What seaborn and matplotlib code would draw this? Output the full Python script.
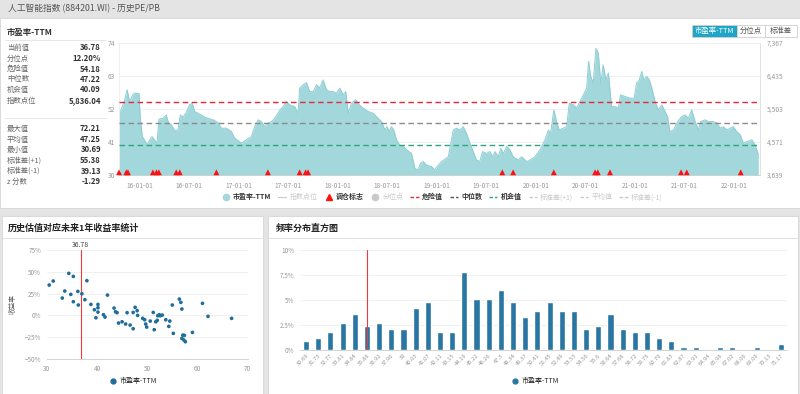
import numpy as np
import pandas as pd
import seaborn as sns
import matplotlib.pyplot as plt
from matplotlib.patches import Rectangle
from matplotlib.lines import Line2D
import matplotlib.dates as mdates
import matplotlib.ticker as mticker

sns.set_theme(style='white')
plt.rcParams['font.family'] = ['Noto Sans CJK SC', 'DejaVu Sans']

# ---- data ----
title = '人工智能指数 (884201.WI) - 历史PE/PB'
series_name = '市盈率-TTM'

pe_dates = [
    '2015-10-17', '2015-10-25', '2015-11-07', '2015-11-16', '2015-11-25', '2015-12-07', '2015-12-14',
    '2015-12-30', '2016-01-03', '2016-01-11', '2016-01-19', '2016-01-28', '2016-02-07', '2016-02-16',
    '2016-02-25', '2016-03-05', '2016-03-12', '2016-03-27', '2016-04-08', '2016-04-17', '2016-04-27',
    '2016-05-09', '2016-05-21', '2016-05-30', '2016-06-09', '2016-06-19', '2016-07-03', '2016-07-13',
    '2016-07-22', '2016-08-03', '2016-08-16', '2016-08-28', '2016-09-09', '2016-09-28', '2016-10-16',
    '2016-10-28', '2016-11-16', '2016-12-04', '2016-12-17', '2016-12-29', '2017-01-10', '2017-01-28',
    '2017-02-16', '2017-02-28', '2017-03-13', '2017-03-25', '2017-04-06', '2017-04-18', '2017-05-01',
    '2017-05-13', '2017-06-01', '2017-06-13', '2017-06-25', '2017-07-07', '2017-07-26', '2017-08-07',
    '2017-08-13', '2017-08-26', '2017-09-07', '2017-09-19', '2017-10-02', '2017-10-14', '2017-10-26',
    '2017-11-07', '2017-11-20', '2017-12-02', '2017-12-14', '2017-12-27', '2018-01-08', '2018-01-20',
    '2018-01-30', '2018-02-08', '2018-02-20', '2018-03-08', '2018-03-20', '2018-04-04', '2018-04-22',
    '2018-05-11', '2018-05-29', '2018-06-11', '2018-06-23', '2018-07-01', '2018-07-09', '2018-07-17',
    '2018-07-26', '2018-08-05', '2018-08-17', '2018-08-30', '2018-09-11', '2018-09-29', '2018-10-12',
    '2018-10-24', '2018-11-01', '2018-11-11', '2018-11-24', '2018-12-12', '2018-12-24', '2019-01-06',
    '2019-01-18', '2019-02-05', '2019-02-12', '2019-02-20', '2019-03-02', '2019-03-14', '2019-03-27',
    '2019-04-08', '2019-04-20', '2019-05-03', '2019-05-15', '2019-05-27', '2019-06-08', '2019-06-18',
    '2019-07-03', '2019-07-15', '2019-07-25', '2019-08-03', '2019-08-15', '2019-08-24', '2019-09-03',
    '2019-09-15', '2019-09-27', '2019-10-09', '2019-10-28', '2019-11-09', '2019-11-28', '2019-12-10',
    '2019-12-28', '2020-01-16', '2020-02-03', '2020-02-16', '2020-02-24', '2020-03-07', '2020-03-17',
    '2020-03-27', '2020-04-11', '2020-04-23', '2020-05-03', '2020-05-18', '2020-05-30', '2020-06-11',
    '2020-06-24', '2020-07-06', '2020-07-13', '2020-07-21', '2020-07-30', '2020-08-09', '2020-08-18',
    '2020-08-27', '2020-09-05', '2020-09-15', '2020-09-24', '2020-09-30', '2020-10-06', '2020-10-18',
    '2020-10-31', '2020-11-08', '2020-11-24', '2020-12-13', '2020-12-28', '2021-01-06', '2021-01-16',
    '2021-01-25', '2021-02-02', '2021-02-12', '2021-02-22', '2021-03-03', '2021-03-15', '2021-03-27',
    '2021-04-09', '2021-04-21', '2021-04-30', '2021-05-09', '2021-05-22', '2021-06-03', '2021-06-21',
    '2021-07-04', '2021-07-16', '2021-07-28', '2021-08-10', '2021-08-22', '2021-08-30', '2021-09-15',
    '2021-09-28', '2021-10-16', '2021-10-29', '2021-11-10', '2021-11-22', '2021-12-05', '2021-12-17',
    '2021-12-29', '2022-01-10', '2022-01-23', '2022-02-04', '2022-02-16', '2022-03-07', '2022-03-19',
    '2022-03-31',
]
pe_values = [
    51.2, 51.7, 55.1, 58.4, 54.5, 56.7, 57.3,
    57.1, 49.5, 42.8, 41.7, 40.0, 41.7, 42.8,
    41.7, 40.6, 48.6, 48.9, 50.0, 47.3, 46.7,
    44.8, 45.0, 50.0, 49.3, 50.6, 53.4, 53.9,
    51.2, 50.6, 50.0, 49.3, 48.9, 48.4, 47.5,
    45.6, 45.6, 44.5, 42.2, 41.5, 40.6, 41.7,
    42.8, 46.1, 48.4, 47.8, 46.1, 47.3, 47.8,
    48.9, 51.7, 52.8, 54.5, 53.4, 52.8, 50.6,
    59.0, 60.1, 60.8, 57.8, 57.8, 60.1, 59.0,
    61.7, 58.4, 57.8, 57.8, 57.3, 59.0, 56.7,
    57.8, 50.6, 53.9, 55.1, 53.4, 52.3, 51.2,
    50.6, 48.9, 47.8, 45.0, 46.1, 44.5, 46.1,
    45.0, 41.7, 40.0, 39.5, 38.4, 37.2, 32.2,
    31.7, 33.9, 34.5, 33.3, 32.8, 31.7, 33.3,
    34.5, 35.6, 36.1, 40.0, 45.0, 45.6, 45.0,
    46.1, 43.9, 40.6, 37.8, 35.0, 34.5, 37.8,
    37.2, 37.8, 36.1, 37.8, 36.1, 38.9, 37.2,
    39.5, 38.4, 36.1, 35.0, 36.1, 34.5, 35.0,
    36.1, 38.4, 41.7, 45.0, 43.9, 51.7, 47.8,
    45.0, 45.6, 46.1, 53.9, 53.4, 52.3, 54.5,
    56.7, 59.0, 67.9, 62.9, 60.6, 72.2, 70.6,
    60.6, 66.7, 61.7, 64.0, 58.4, 52.8, 52.8,
    52.3, 56.7, 56.2, 55.6, 55.6, 60.6, 61.7,
    64.5, 61.7, 62.9, 61.7, 59.0, 54.5, 51.7,
    53.4, 51.2, 49.5, 44.5, 45.0, 47.3, 49.5,
    50.0, 48.9, 51.7, 47.8, 45.0, 47.8, 48.4,
    47.8, 47.8, 47.3, 45.6, 46.1, 45.0, 45.6,
    46.1, 44.5, 43.4, 40.6, 41.1, 41.7, 40.0,
    36.78,
]

trade_dates = [
    '2015-10-17', '2015-11-13', '2015-11-19', '2016-02-19', '2016-03-03', '2016-03-12',
    '2016-05-15', '2016-05-28', '2016-10-10', '2017-04-18', '2017-08-13', '2017-09-04',
    '2017-09-13', '2019-08-30', '2019-10-09', '2020-03-07', '2020-08-06', '2020-08-16',
    '2020-09-30', '2021-06-19', '2021-07-10', '2022-01-25',
]

danger_val = 54.18
median_val = 47.22
chance_val = 40.09
pe_ticks = [30, 41, 52, 63, 74]
index_ticks = [3639, 4571, 5503, 6435, 7367]
date_ticks = ['2016-01-01', '2016-07-01', '2017-01-01', '2017-07-01', '2018-01-01', '2018-07-01',
              '2019-01-01', '2019-07-01', '2020-01-01', '2020-07-01', '2021-01-01', '2021-07-01',
              '2022-01-01']

stats_top = [('当前值', '36.78'), ('分位点', '12.20%'), ('危险值', '54.18'),
             ('中位数', '47.22'), ('机会值', '40.09'), ('指数点位', '5,836.04')]
stats_bottom = [('最大值', '72.21'), ('平均值', '47.25'), ('最小值', '30.69'),
                ('标准差(+1)', '55.38'), ('标准差(-1)', '39.13'), ('z 分数', '-1.29')]

scatter_pe = [30.5, 31.3, 33.1, 33.6, 34.4, 34.8, 35.3, 35.3, 36.2, 36.3, 37.0, 37.6, 38.0, 38.8,
              39.5, 39.8, 40.2, 40.2, 40.2, 41.3, 41.6, 42.1, 43.4, 43.7, 44.0, 44.3, 45.0, 45.7,
              46.0, 46.6, 47.2, 47.2, 47.6, 48.0, 48.1, 49.1, 49.5, 49.7, 49.9, 50.6, 51.2, 51.4,
              51.7, 52.0, 52.1, 52.4, 52.6, 53.0, 53.7, 54.3, 54.5, 55.0, 55.2, 56.4, 56.7, 56.9,
              56.9, 57.1, 57.3, 57.4, 57.6, 59.0, 61.0, 62.1, 66.8]
scatter_ret = [34.8, 39.4, 19.9, 27.9, 48.2, 24.1, 44.7, 15.7, 27.5, 11.9, 24.8, 18.0, 39.8, 12.6,
               6.5, -2.7, 3.8, 8.8, 12.6, 0.8, -1.9, 23.3, 8.4, 4.2, 3.1, -8.8, -7.3, -9.9,
               3.1, -11.1, -15.3, 3.4, 9.2, 5.4, 0.0, -3.4, -5.0, -9.9, -13.4, -6.5, 3.4, -16.4,
               -7.3, -5.7, -0.4, 0.8, -0.4, 0.4, -5.0, -12.6, -6.5, 11.9, -20.6, 18.7, 14.9, 7.3,
               -26.4, -22.6, -28.3, -22.9, -30.2, -19.5, 13.8, -1.1, -3.4]
current_pe = 36.78

hist_bins = ['30.69', '31.73', '32.77', '33.81', '34.84', '35.88', '36.92', '37.96', '39', '40.03',
             '41.07', '42.11', '43.15', '44.19', '45.22', '46.26', '47.3', '48.34', '49.37', '50.41',
             '51.45', '52.49', '53.53', '54.56', '55.6', '56.64', '57.68', '58.72', '59.75', '60.79',
             '61.83', '62.87', '63.91', '64.94', '65.98', '67.02', '68.06', '69.09', '70.13', '71.17']
hist_pct = [0.9, 1.2, 1.8, 2.7, 3.6, 2.4, 2.7, 2.1, 2.1, 4.2,
            4.8, 1.8, 1.8, 7.8, 5.1, 5.1, 6.0, 4.8, 3.3, 3.9,
            4.8, 3.9, 3.9, 2.1, 2.4, 3.6, 2.1, 1.8, 1.8, 1.2,
            0.9, 0.3, 0.3, 0.0, 0.3, 0.3, 0.0, 0.3, 0.0, 0.6]
current_bin = '35.88'

# ---- colours ----
AREA = '#a2d8dc'
AREA_EDGE = '#8dcdd3'
RED = '#e8263c'
LINE_RED = '#f03a3a'
GREY_DASH = '#8a8a8a'
GREEN = '#2fa57f'
BAR = '#2a76a3'
DOT = '#1f6d99'
TXT = '#333333'
TICK = '#999999'
FADED = '#c9c9c9'

W, H = 800, 394


def box(x0, y0, x1, y1):
    return [x0 / W, 1 - y1 / H, (x1 - x0) / W, (y1 - y0) / H]


def fx(x):
    return x / W


def fy(y):
    return 1 - y / H


fig = plt.figure(figsize=(8, 3.94), dpi=100)
fig.patch.set_facecolor('#e4e4e4')

# panels
for x0, y0, x1, y1 in [(0, 18, 800, 208), (2, 216, 263, 394), (268, 216, 798, 394)]:
    fig.add_artist(Rectangle((fx(x0), fy(y1)), fx(x1 - x0), (y1 - y0) / H, transform=fig.transFigure,
                             facecolor='white', edgecolor='#d6d6d6', lw=0.6, zorder=0))
fig.text(fx(8), fy(9), title, fontsize=6.3, color='#555555', va='center')

# ---- main PE chart ----
df = pd.DataFrame({'date': pd.to_datetime(pe_dates), 'pe': pe_values})
ax = fig.add_axes(box(119, 43, 760, 175))
ax.fill_between(df['date'], 30, df['pe'], color=AREA, lw=0, zorder=1)
sns.lineplot(data=df, x='date', y='pe', ax=ax, color=AREA_EDGE, lw=0.7, zorder=2)
ax.axhline(danger_val, color=RED, lw=1.0, ls=(0, (4, 2.5)), zorder=3)
ax.axhline(median_val, color=GREY_DASH, lw=1.0, ls=(0, (4, 2.5)), zorder=3)
ax.axhline(chance_val, color=GREEN, lw=1.0, ls=(0, (4, 2.5)), zorder=3)
tdf = pd.DataFrame({'date': pd.to_datetime(trade_dates), 'y': 30.9})
sns.scatterplot(data=tdf, x='date', y='y', ax=ax, marker='^', color='#ff1010', s=18,
                edgecolor='none', zorder=4, clip_on=False)
ax.set_ylim(30, 74)
ax.set_yticks(pe_ticks)
ax.set_xlim(pd.Timestamp(pe_dates[0]), pd.Timestamp('2022-04-06'))
ax.set_xticks(pd.to_datetime(date_ticks))
ax.xaxis.set_major_formatter(mdates.DateFormatter('%y-%m-%d'))
ax.grid(axis='y', color='#eeeeee', lw=0.6)
ax.set_axisbelow(True)
ax.set_xlabel('')
ax.set_ylabel('')
ax.tick_params(axis='both', labelsize=4.8, colors=TICK, length=0, pad=3)
ax.tick_params(axis='x', length=2, color='#cccccc', pad=3)
for s in ax.spines.values():
    s.set_visible(False)
ax.spines['bottom'].set_visible(True)
ax.spines['bottom'].set_color('#cccccc')
ax.spines['bottom'].set_linewidth(0.6)
ax.spines['left'].set_visible(True)
ax.spines['left'].set_color('#eeeeee')
ax.spines['left'].set_linewidth(0.6)

ax2 = ax.twinx()
ax2.set_ylim(index_ticks[0], index_ticks[-1])
ax2.set_yticks(index_ticks)
ax2.yaxis.set_major_formatter(mticker.StrMethodFormatter('{x:,.0f}'))
ax2.tick_params(axis='y', labelsize=4.8, colors=TICK, length=0, pad=5)
for s in ax2.spines.values():
    s.set_visible(False)
ax2.spines['right'].set_visible(True)
ax2.spines['right'].set_color('#dddddd')
ax2.spines['right'].set_linewidth(0.6)
ax2.grid(False)

# legend of main chart
dash = (0, (2.5, 1.5))
handles = [
    Line2D([], [], marker='o', color=AREA, ls='none', markersize=4.5),
    Line2D([], [], color=FADED, lw=0.8),
    Line2D([], [], marker='^', color='#ff1010', ls='none', markersize=4),
    Line2D([], [], marker='o', color=FADED, ls='none', markersize=4.5),
    Line2D([], [], color=RED, lw=1, ls=dash),
    Line2D([], [], color='#555555', lw=1, ls=dash),
    Line2D([], [], color=GREEN, lw=1, ls=dash),
    Line2D([], [], color=FADED, lw=1, ls=dash),
    Line2D([], [], color=FADED, lw=1, ls=dash),
    Line2D([], [], color=FADED, lw=1, ls=dash),
]
labels = [series_name, '指数点位', '调仓标志', '分位点', '危险值', '中位数', '机会值',
          '标准差(+1)', '平均值', '标准差(-1)']
active = [True, False, True, False, True, True, True, False, False, False]
leg = fig.legend(handles, labels, ncol=10, loc='center', bbox_to_anchor=(fx(442), fy(197)),
                 frameon=False, fontsize=5.0, handlelength=1.2, handletextpad=0.45, columnspacing=1.0)
for t, a in zip(leg.get_texts(), active):
    t.set_color(TXT if a else FADED)
    if a:
        t.set_fontweight('bold')

# buttons top right
for (x0, x1, lab, on) in [(692, 737, series_name, True), (737, 765, '分位点', False), (765, 797, '标准差', False)]:
    fig.add_artist(Rectangle((fx(x0), fy(37)), fx(x1 - x0), 12 / H, transform=fig.transFigure,
                             facecolor='#1fa6c6' if on else 'white', edgecolor='#cfcfcf', lw=0.6))
    fig.text(fx((x0 + x1) / 2), fy(31), lab, fontsize=5.3, color='white' if on else '#555555',
             ha='center', va='center')

# stats panel
fig.text(fx(7), fy(32), series_name, fontsize=6, color=TXT, va='center', fontweight='bold')
fig.add_artist(Line2D([fx(5), fx(106)], [fy(40), fy(40)], color='#e3e3e3', lw=0.6))
fig.add_artist(Line2D([fx(5), fx(106)], [fy(118), fy(118)], color='#e3e3e3', lw=0.6))
for i, (lab, val) in enumerate(stats_top):
    y = 48 + i * 10.5
    fig.text(fx(7), fy(y), lab, fontsize=5.3, color='#666666', va='center')
    fig.text(fx(101), fy(y), val, fontsize=5.6, color=TXT, va='center', ha='right', fontweight='bold')
for i, (lab, val) in enumerate(stats_bottom):
    y = 129 + i * 10.5
    fig.text(fx(7), fy(y), lab, fontsize=5.3, color='#666666', va='center')
    fig.text(fx(101), fy(y), val, fontsize=5.6, color=TXT, va='center', ha='right', fontweight='bold')

# ---- scatter panel ----
fig.text(fx(8), fy(228), '历史估值对应未来1年收益率统计', fontsize=6.5, color='#222222',
         va='center', fontweight='bold')
fig.add_artist(Line2D([fx(2), fx(263)], [fy(238), fy(238)], color='#dddddd', lw=0.6))
sdf = pd.DataFrame({'pe': scatter_pe, 'ret': scatter_ret})
ax3 = fig.add_axes(box(46.7, 250, 247.7, 359))
sns.scatterplot(data=sdf, x='pe', y='ret', ax=ax3, color=DOT, s=7, edgecolor='none', zorder=3)
ax3.axvline(current_pe, color=LINE_RED, lw=0.8, zorder=2)
ax3.text(current_pe, 76.5, f'{current_pe:.2f}', ha='center', va='bottom', fontsize=5, color='#444444')
ax3.set_xlim(30, 70)
ax3.set_ylim(-50, 75)
ax3.set_xticks([30, 40, 50, 60, 70])
ax3.set_yticks([-50, -25, 0, 25, 50, 75])
ax3.yaxis.set_major_formatter(mticker.StrMethodFormatter('{x:.0f}%'))
ax3.grid(axis='y', color='#eeeeee', lw=0.6)
ax3.set_axisbelow(True)
ax3.set_xlabel('')
ax3.set_ylabel('收益率', fontsize=4.8, color='#666666', labelpad=6)
ax3.tick_params(axis='both', labelsize=4.6, colors=TICK, length=0, pad=4)
for s in ax3.spines.values():
    s.set_visible(False)
ax3.spines['bottom'].set_visible(True)
ax3.spines['bottom'].set_color('#cccccc')
ax3.spines['bottom'].set_linewidth(0.6)
fig.legend([Line2D([], [], marker='o', color=DOT, ls='none', markersize=3.5)], [series_name],
           loc='center', bbox_to_anchor=(fx(133), fy(381)), frameon=False, fontsize=5,
           handletextpad=0.4, handlelength=1)

# ---- histogram panel ----
fig.text(fx(276), fy(228), '频率分布直方图', fontsize=6.5, color='#222222', va='center',
         fontweight='bold')
fig.add_artist(Line2D([fx(268), fx(798)], [fy(238), fy(238)], color='#dddddd', lw=0.6))
hdf = pd.DataFrame({'bin': hist_bins, 'pct': hist_pct})
ax4 = fig.add_axes(box(300, 250, 787, 350))
sns.barplot(data=hdf, x='bin', y='pct', ax=ax4, color=BAR, width=0.5, saturation=1, zorder=3)
ax4.axvline(hist_bins.index(current_bin), color=LINE_RED, lw=0.8, zorder=4)
ax4.set_ylim(0, 10)
ax4.set_xlim(-0.5, len(hist_bins) - 0.5)
ax4.set_yticks([0, 2.5, 5, 7.5, 10])
ax4.set_yticklabels(['0%', '2.5%', '5%', '7.5%', '10%'])
ax4.grid(axis='y', color='#eeeeee', lw=0.6)
ax4.set_axisbelow(True)
ax4.set_xlabel('')
ax4.set_ylabel('')
ax4.tick_params(axis='y', labelsize=4.6, colors=TICK, length=0, pad=4)
ax4.tick_params(axis='x', labelsize=4.2, colors=TICK, length=0, pad=2)
plt.setp(ax4.get_xticklabels(), rotation=45, ha='right', rotation_mode='anchor')
for s in ax4.spines.values():
    s.set_visible(False)
ax4.spines['bottom'].set_visible(True)
ax4.spines['bottom'].set_color('#cccccc')
ax4.spines['bottom'].set_linewidth(0.6)
fig.legend([Line2D([], [], marker='o', color=BAR, ls='none', markersize=3.5)], [series_name],
           loc='center', bbox_to_anchor=(fx(535), fy(381)), frameon=False, fontsize=5,
           handletextpad=0.4, handlelength=1)

fig.savefig('out.png', dpi=100, facecolor=fig.get_facecolor())
